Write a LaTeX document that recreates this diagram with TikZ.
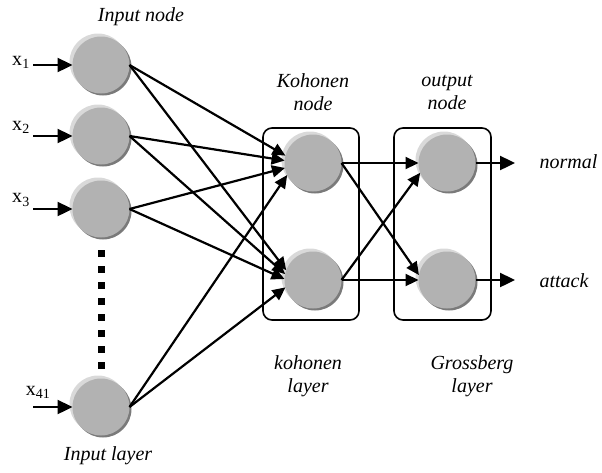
\documentclass[tikz,border=0pt]{standalone}
\usepackage{fontspec}
\setmainfont{Liberation Serif}
\usetikzlibrary{arrows.meta,shadows}

\tikzset{
	neuron/.style={circle, minimum size=57pt, inner sep=0pt, outer sep=0pt, fill=black!30,
		general shadow={shadow xshift=-3pt, shadow yshift=3pt, fill=black!15},
		drop shadow={shadow xshift=2pt, shadow yshift=-2pt, fill=black!52, opacity=1}},
	feed/.style={line width=2.4pt, -{Triangle[length=15pt,width=14pt]}},
	link/.style={line width=2.2pt, -{Triangle[length=13pt,width=12pt]}},
	caption/.style={font=\fontsize{20}{23}\selectfont\itshape, align=center},
	inlabel/.style={font=\fontsize{20}{23}\selectfont, inner sep=0pt},
	layerbox/.style={line width=1.6pt, rounded corners=9pt},
}

\begin{document}
\begin{tikzpicture}[x=1pt, y=-1pt]
	\useasboundingbox (0,0) rectangle (602,472);
	\draw[layerbox] (263,128) rectangle (359,320);
	\draw[layerbox] (394,128) rectangle (491,320);
	\draw[line width=7pt, dash pattern=on 7pt off 9pt] (101,250) -- (101,370);
	\node[neuron] (in1) at (101,65) {};
	\node[neuron] (in2) at (101,136) {};
	\node[neuron] (in3) at (101,209) {};
	\node[neuron] (in41) at (101,407) {};
	\node[neuron] (koh1) at (313,163) {};
	\node[neuron] (koh2) at (313,280) {};
	\node[neuron] (out1) at (447,163) {};
	\node[neuron] (out2) at (447,280) {};
	\foreach \i/\y in {1/65, 2/136, 3/209, 41/407} {
		\coordinate (src\i) at (33,\y);
		\draw[feed] (src\i) -- (in\i.west);
	}
	\node[inlabel] (x1) at (21,62) {x\textsubscript{1}};
	\node[inlabel] (x2) at (21,127) {x\textsubscript{2}};
	\node[inlabel] (x3) at (21,200) {x\textsubscript{3}};
	\node[inlabel] (x41) at (38,392) {x\textsubscript{41}};
	\foreach \i/\a/\b in {1/165/160, 2/175/168, 3/190/178, 41/205/195} {
		\draw[link] (in\i.east) -- (koh1.\a);
		\draw[link] (in\i.east) -- (koh2.\b);
	}
	\draw[link] (koh1.east) -- (out1.west);
	\draw[link] (koh1.east) -- (out2.170);
	\draw[link] (koh2.east) -- (out1.200);
	\draw[link] (koh2.east) -- (out2.west);
	\coordinate (normalend) at (515,163);
	\coordinate (attackend) at (515,280);
	\draw[feed] (out1.east) -- (normalend);
	\draw[feed] (out2.east) -- (attackend);
	\node[caption] (inputnode) at (141,17) {Input node};
	\node[caption] (inputlayer) at (108,456) {Input layer};
	\node[caption] (kohnode) at (313,92) {Kohonen\\node};
	\node[caption] (outnode) at (447,92) {output\\node};
	\node[caption] (kohlayer) at (308,376) {kohonen\\layer};
	\node[caption] (grosslayer) at (472,376) {Grossberg\\layer};
	\node[caption, anchor=west] (normal) at (536,162) {normal};
	\node[caption, anchor=west] (attack) at (536,281) {attack};
\end{tikzpicture}
\end{document}
